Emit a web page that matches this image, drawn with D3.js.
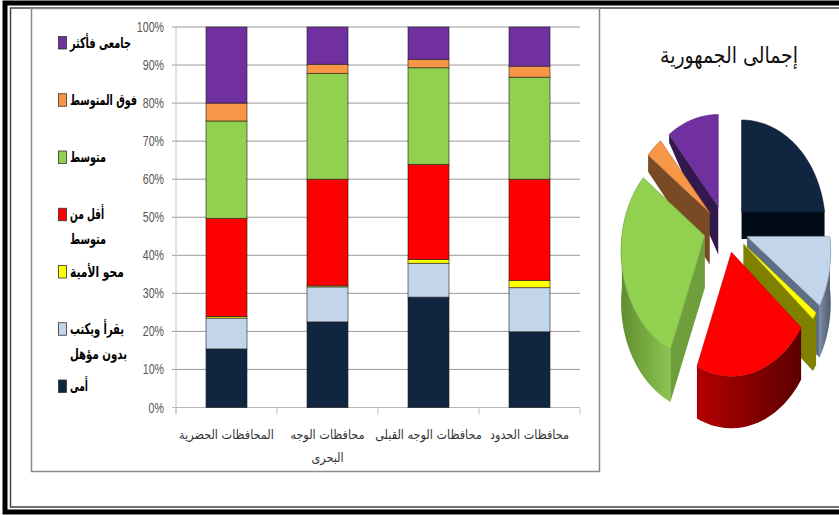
<!DOCTYPE html>
<html><head><meta charset="utf-8">
<script src="https://cdn.jsdelivr.net/npm/d3@7/dist/d3.min.js"></script>
<style>html,body{margin:0;padding:0;background:#fff}svg{display:block}</style>
</head><body><div id="c"></div>
<script>
const categories = ["المحافظات الحضرية","محافظات الوجه البحرى","محافظات الوجه القبلى","محافظات الحدود"];
const seriesNames = ["أمى","يقرأ ويكتب بدون مؤهل","محو الأمية","أقل من متوسط","متوسط","فوق المتوسط","جامعى فأكثر"];
const umi = [15.4,22.5,29,19.9];
const reads = [8.1,9.2,8.9,11.6];
const literacy = [0.4,0.3,1,1.9];
const belowMid = [25.8,28,25,26.6];
const mid = [25.6,27.8,25.4,26.8];
const aboveMid = [4.7,2.4,2.2,2.9];
const univ = [20,9.8,8.5,10.3];
const totalShare = [25,10,1,20,29,3.5,11.5];
const tickLabels = ["0%","10%","20%","30%","40%","50%","60%","70%","80%","90%","100%"];
const colors = ["#10253f","#c3d5ea","#ffff00","#ff0000","#92d050","#f79646","#7030a0"];
const edgeColors = ["#020c18","#5e6e84","#808000","#8c0000","#6f9f3c","#7a4a24","#32184c"];

const W=839,H=515;
const svg=d3.select("#c").append("svg").attr("width",W).attr("height",H);
const AR="'DejaVu Sans Condensed','DejaVu Sans',sans-serif";

// squeeze a text horizontally about its anchor point so it spans the width wanted
const squeeze=(sel,px,py,w)=>{
  const natural=sel.node().getComputedTextLength();
  sel.attr("x",0).attr("y",0).attr("transform",`translate(${px},${py}) scale(${w/natural},1)`);
};

// frame
svg.append("rect").attr("x",5).attr("y",3).attr("width",W+20).attr("height",509).attr("fill","none").attr("stroke","#000").attr("stroke-width",5);
svg.append("rect").attr("x",10.5).attr("y",8).attr("width",W+20).attr("height",499).attr("fill","none").attr("stroke","#444").attr("stroke-width",1.5);
svg.append("rect").attr("x",31.5).attr("y",8.5).attr("width",568).attr("height",463).attr("fill","#fff").attr("stroke","#8a8a8a").attr("stroke-width",1.5);

// scales
const x=d3.scaleBand().domain(categories).range([176,580]).paddingInner(0.6).paddingOuter(0.3);
const y=d3.scaleLinear().domain([0,100]).range([407.5,27]);

// grid
const g=svg.append("g");
g.selectAll("line.g").data(d3.range(1,tickLabels.length).map(i=>i*10)).join("line")
 .attr("x1",172).attr("x2",580).attr("y1",d=>y(d)).attr("y2",d=>y(d)).attr("stroke","#9a9a9a").attr("stroke-width",1);
g.append("line").attr("x1",176).attr("x2",176).attr("y1",y(100)).attr("y2",y(0)+7).attr("stroke","#c4c4c4");
g.append("line").attr("x1",172).attr("x2",580).attr("y1",y(0)).attr("y2",y(0)).attr("stroke","#b8b8b8");
g.selectAll("line.t").data(d3.range(0,categories.length+1)).join("line")
 .attr("x1",i=>176+i*x.step()).attr("x2",i=>176+i*x.step())
 .attr("y1",y(0)).attr("y2",y(0)+7).attr("stroke","#c4c4c4");
tickLabels.forEach((t,i)=>{
  const s=g.append("text").attr("text-anchor","end")
   .attr("font-family","'Liberation Sans',sans-serif").attr("font-size",14).attr("fill","#555").text(t);
  squeeze(s,164,y(i*10)+5,s.node().getComputedTextLength()*.76);
});

// stacked bars
const rows=categories.map((c,i)=>({c,0:umi[i],1:reads[i],2:literacy[i],3:belowMid[i],4:mid[i],5:aboveMid[i],6:univ[i]}));
const stack=d3.stack().keys([0,1,2,3,4,5,6])(rows);
const bw=41;
svg.selectAll("g.s").data(stack).join("g").attr("fill",(d,i)=>colors[i])
 .selectAll("rect").data(d=>d).join("rect")
 .attr("x",d=>x(d.data.c)+x.bandwidth()/2-bw/2).attr("width",bw)
 .attr("y",d=>y(d[1])).attr("height",d=>y(d[0])-y(d[1]))
 .attr("stroke","#1a1a1a").attr("stroke-opacity",.65).attr("stroke-width",.9);

// category labels
const catLines=[["المحافظات الحضرية"],["محافظات الوجه","البحرى"],["محافظات الوجه القبلى"],["محافظات الحدود"]];
categories.forEach((c,i)=>{
  catLines[i].forEach((ln,j)=>{
    svg.append("text").attr("x",x(c)+x.bandwidth()/2).attr("y",439+j*23)
      .attr("text-anchor","middle").attr("font-family",AR).attr("font-size",12.5).attr("fill","#333").text(ln);
  });
});

// legend
const legendLines=[["أمى"],["يقرأ ويكتب","بدون مؤهل"],["محو الأمية"],["أقل من","متوسط"],["متوسط"],["فوق المتوسط"],["جامعى فأكثر"]];
const legendFit=[[18],[54,57],[54],[34,36],[36],[67],[61]];
const ly=d3.scalePoint().domain(d3.range(7)).range([386,42.5]);
d3.range(7).forEach(i=>{
  svg.append("rect").attr("x",58.5).attr("y",ly(i)-6).attr("width",8).attr("height",12.5)
    .attr("fill",colors[i]).attr("stroke","#333").attr("stroke-width",.8);
  legendLines[i].forEach((ln,j)=>{
    const s=svg.append("text").attr("font-family",AR).attr("font-weight","bold").attr("font-size",15).attr("fill","#000").text(ln);
    squeeze(s,70,ly(i)+5+j*25,legendFit[i][j]);
  });
});

// title
const ttl=svg.append("text").attr("text-anchor","middle").attr("font-family",AR).attr("font-size",23).attr("fill","#111").text("إجمالى الجمهورية");
squeeze(ttl,729,63,138);

// 3D pie
const defs=svg.append("defs");
const grad=(id,a,b)=>{const l=defs.append("linearGradient").attr("id",id);l.append("stop").attr("offset",0).attr("stop-color",a);l.append("stop").attr("offset",1).attr("stop-color",b);};
grad("w0","#0d1f35","#0d1f35");grad("w1","#7b8ba0","#4d5c70");grad("w2","#808000","#808000");
grad("w3","#b30000","#5c0000");grad("w4","#5f8e30","#8dc552");grad("w5","#7a4a24","#7a4a24");grad("w6","#32184c","#32184c");

const cx=726,cy=229,rx=83,ry=108,pers=16,ex=22,ey=24;
const arcs=d3.pie().sort(null).value(d=>d)(totalShare);
const toScreen=(a,r,o)=>{const u=Math.sin(a)*r,v=-Math.cos(a)*r;
  return [cx+o[0]+rx*u*(1+.14*v), cy+o[1]+v*(ry+pers*v)];};
const depth=(py,i)=> i===0?27:Math.max(8,Math.min(52,8+(py-140)*.6));
const line=d3.line();
const order=[0,6,5,4,1,2,3];
const samples=(a0,a1)=>{const n=Math.max(2,Math.ceil((a1-a0)/.04));return d3.range(n+1).map(k=>a0+(a1-a0)*k/n);};
const down=(p,i)=>[p[0],p[1]+depth(p[1],i)];
order.forEach(i=>{
  const s=arcs[i],m=(s.startAngle+s.endAngle)/2;
  const o=[ex*Math.sin(m),-ey*Math.cos(m)];
  const apex=toScreen(0,0,o);
  const gp=svg.append("g");
  const w0=Math.max(s.startAngle,Math.PI/2),w1=Math.min(s.endAngle,1.5*Math.PI);
  if(w1>w0){
    const top=samples(w0,w1).map(a=>toScreen(a,1,o));
    const bottom=top.map(p=>down(p,i)).reverse();
    gp.append("path").attr("d",line(top.concat(bottom))+"Z").attr("fill",`url(#w${i})`);
  }
  const edgeA=s.endAngle<Math.PI?s.endAngle:(s.startAngle>Math.PI?s.startAngle:null);
  if(edgeA!==null){
    const e=toScreen(edgeA,1,o);
    gp.append("path").attr("d",line([apex,e,down(e,i),down(apex,i)])+"Z").attr("fill",edgeColors[i]);
  }
  const rim=samples(s.startAngle,s.endAngle).map(a=>toScreen(a,1,o));
  gp.append("path").attr("d",line([apex].concat(rim))+"Z").attr("fill",colors[i]).attr("stroke",d3.color(colors[i]).darker(.8)).attr("stroke-width",.6);
});
</script></body></html>
